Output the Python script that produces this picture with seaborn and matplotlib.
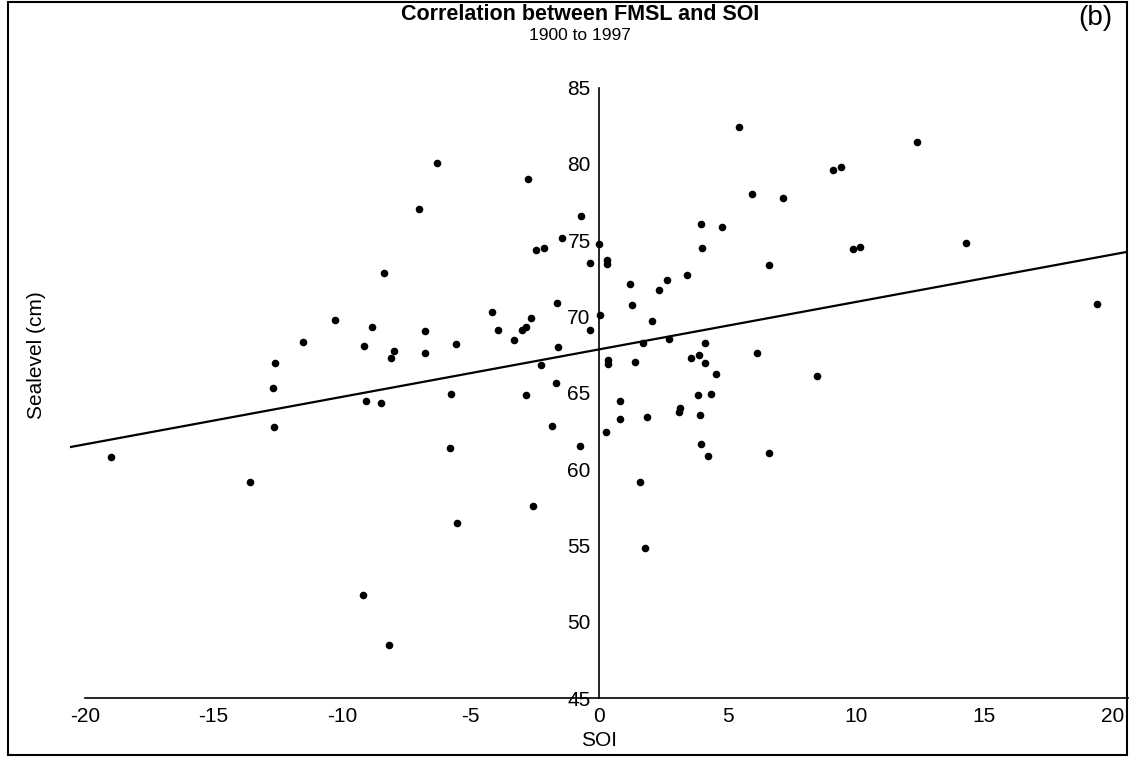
import matplotlib
matplotlib.use("Agg")
import matplotlib.pyplot as plt
from matplotlib.patches import Rectangle
import seaborn as sns
import numpy as np
import pandas as pd

# values (one dot per year 1900-1997)
soi = [-7.00, -8.37, -10.26, -8.83, -11.51, -9.16, -7.99, -8.08, -12.60, -12.67,
       -9.08, -8.48, -12.66, -19.00, -13.58, -9.17, -8.16, -6.32, -2.77, -0.70,
       -1.45, 0.01, -2.44, -2.14, -0.36, 0.32, 0.32, 1.22, 1.30, 2.32,
       2.63, 3.44, 3.96, 4.01, 4.77, 5.44, 5.96, 6.60, 2.07, 0.05,
       -0.36, -1.62, -1.60, -2.66, -2.84, -3.00, -3.92, -4.18, -3.32, -5.58,
       -6.76, -6.76, -2.27, -1.68, -5.75, -2.84, 0.34, 0.34, 1.40, 1.72,
       2.74, 3.57, 3.90, 4.14, 4.14, 4.55, 6.14, 3.86, 4.36, 0.83,
       0.81, 0.27, 1.88, 3.15, 3.11, 3.93, -1.82, -5.80, -0.74, 3.97,
       4.23, 6.60, 1.61, -2.56, -5.54, 1.80, 12.39, 9.09, 9.42, 7.16,
       9.88, 10.14, 14.28, 19.37, 8.48]
sealevel = [77.05, 72.85, 69.74, 69.28, 68.32, 68.06, 67.71, 67.27, 66.97, 65.33,
            64.49, 64.30, 62.77, 60.82, 59.18, 51.78, 48.48, 80.05, 78.98, 76.59,
            75.17, 74.75, 74.34, 74.49, 73.48, 73.73, 73.46, 72.13, 70.77, 71.73,
            72.37, 72.70, 76.06, 74.51, 75.83, 82.43, 78.01, 73.35, 69.72, 70.12,
            69.09, 70.91, 68.02, 69.88, 69.33, 69.13, 69.13, 70.31, 68.43, 68.22,
            69.02, 67.62, 66.81, 65.63, 64.91, 64.86, 67.14, 66.90, 67.01, 68.24,
            68.50, 67.27, 67.49, 68.24, 66.94, 66.22, 67.60, 64.84, 64.93, 64.43,
            63.27, 62.41, 63.44, 64.02, 63.71, 63.56, 62.85, 61.41, 61.48, 61.63,
            60.87, 61.02, 59.18, 57.56, 56.49, 54.80, 81.40, 79.57, 79.80, 77.73,
            74.45, 74.55, 74.80, 70.79, 66.09]
# fitted line as drawn on the original
fit_intercept = 67.84
fit_slope = 0.311
x_ticks = [-20, -15, -10, -5, 0, 5, 10, 15, 20]
y_ticks = [45, 50, 55, 60, 65, 70, 75, 80, 85]

sns.set_style("white")
plt.rcParams['font.family'] = ['Liberation Sans Narrow', 'Liberation Sans', 'DejaVu Sans']
plt.rcParams['axes.unicode_minus'] = False
plt.rcParams['text.color'] = 'black'

df = pd.DataFrame({'SOI': soi, 'Sealevel': sealevel})

W, H = 1131, 758
fig = plt.figure(figsize=(W / 100, H / 100), dpi=100)
ax = fig.add_axes([69.6 / W, (H - 698) / H, 1058.8 / W, 610.5 / H])
ax.set_xlim(-20.6, 20.6)
ax.set_ylim(45, 85)

line_x = np.array(ax.get_xlim())
line_df = pd.DataFrame({'SOI': line_x, 'Sealevel': fit_intercept + fit_slope * line_x})
sns.lineplot(data=line_df, x='SOI', y='Sealevel', ax=ax, color='black', lw=1.6)
sns.scatterplot(data=df, x='SOI', y='Sealevel', ax=ax, s=30, color='black', linewidth=0)
ax.set_xlim(-20.6, 20.6)
ax.set_ylim(45, 85)

ax.set_xlabel('')
ax.set_ylabel('')
ax.set_xticks(x_ticks)
ax.set_yticks(y_ticks)
ax.spines['top'].set_visible(False)
ax.spines['right'].set_visible(False)
ax.spines['left'].set_position(('data', 0))
ax.spines['bottom'].set_bounds(-20, 20.6)
for s in ['left', 'bottom']:
    ax.spines[s].set_color('black')
    ax.spines[s].set_linewidth(1.2)
ax.tick_params(axis='x', direction='inout', length=7, width=1, labelsize=15, pad=3, colors='black')
ax.tick_params(axis='y', direction='out', length=4, width=1, labelsize=15, pad=2, colors='black')

fig.text(580 / W, 1 - 15 / H, 'Correlation between FMSL and SOI', ha='center', va='center',
         fontsize=15.5, fontweight='bold')
fig.text(580 / W, 1 - 36 / H, '1900 to 1997', ha='center', va='center', fontsize=12.5)
fig.text(1095 / W, 1 - 18 / H, '(b)', ha='center', va='center', fontsize=20)
fig.text(599 / W, 1 - 740 / H, 'SOI', ha='center', va='center', fontsize=15)
fig.text(36 / W, 1 - 355 / H, 'Sealevel (cm)', ha='center', va='center', rotation=90, fontsize=15)

fig.add_artist(Rectangle((8 / W, 3 / H), 1119 / W, 753 / H, transform=fig.transFigure,
                         fill=False, lw=1.5, ec='black'))

fig.savefig('out.png', dpi=100)
